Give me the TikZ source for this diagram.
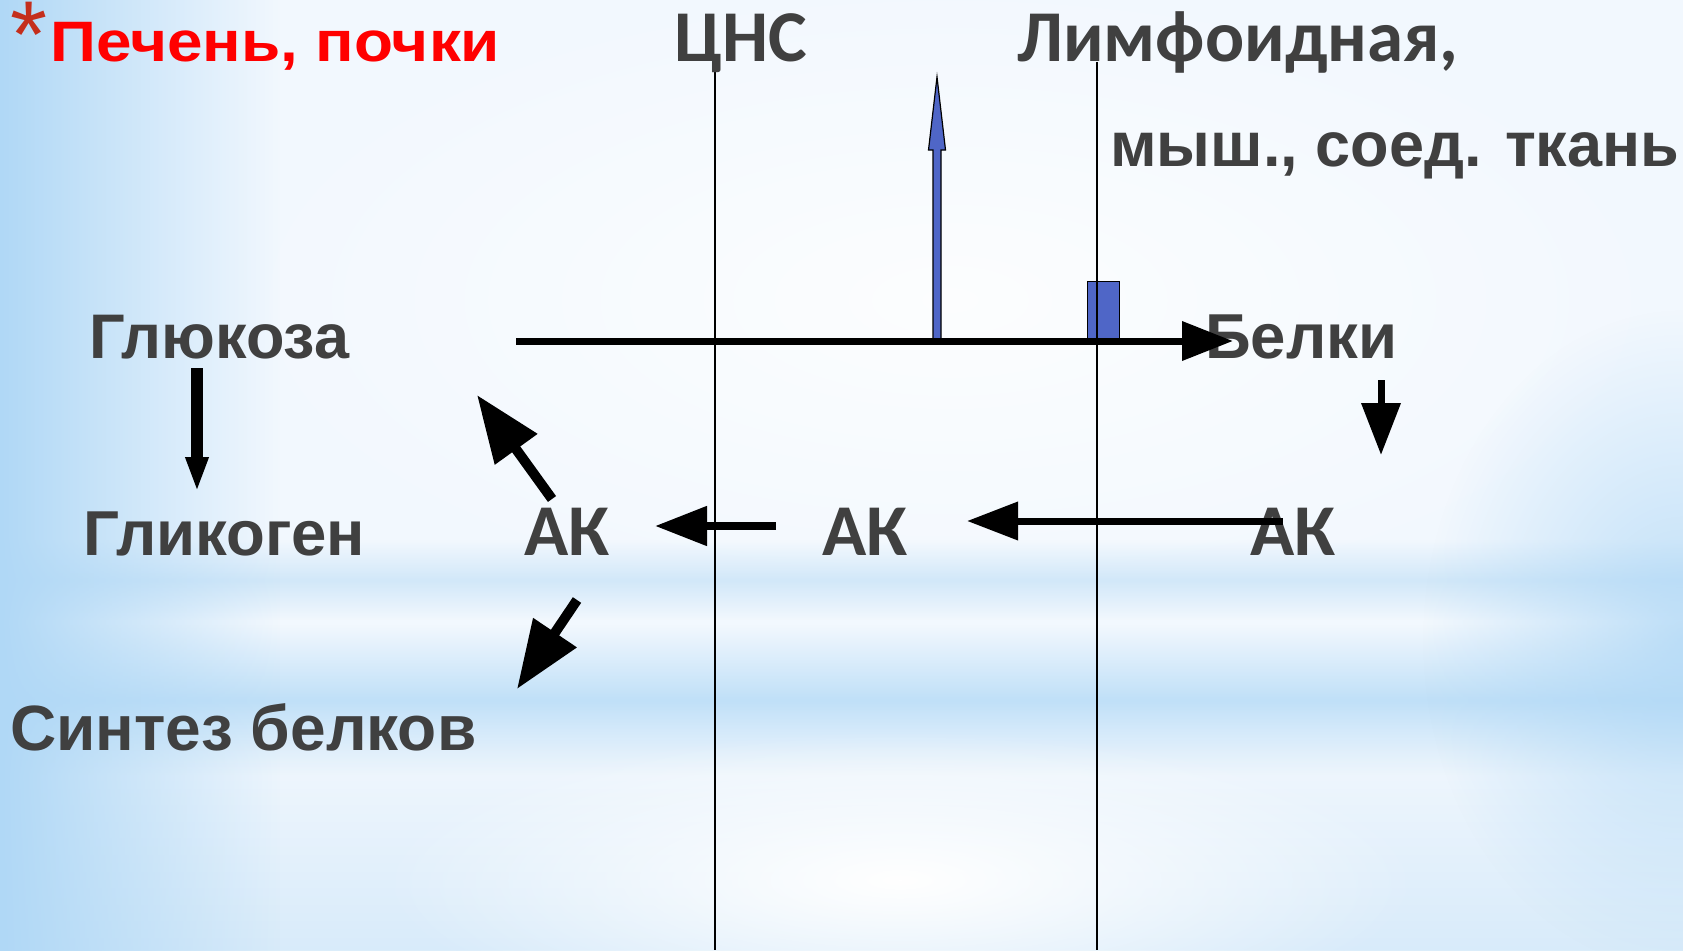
\documentclass[tikz,border=0pt]{standalone}
\usepackage{fontspec}
\setmainfont{Liberation Sans}
\newfontfamily\calfont{Carlito}
\usetikzlibrary{arrows.meta,fadings}
\definecolor{txt}{RGB}{64,64,64}
\definecolor{bgbase}{RGB}{242,248,254}
\definecolor{bandA}{RGB}{210,232,249}
\definecolor{bandB}{RGB}{192,224,248}
\definecolor{edgeblue}{RGB}{176,216,246}
\definecolor{arrblue}{RGB}{79,102,199}
\definecolor{star}{RGB}{196,46,28}
\tikzfading[name=vband, top color=transparent!100, bottom color=transparent!100, middle color=transparent!0]
\tikzfading[name=hband, left color=transparent!100, right color=transparent!100, middle color=transparent!0]
\tikzfading[name=glow, inner color=transparent!0, outer color=transparent!100]
\tikzset{
  lbl/.style={anchor=base west, inner sep=0pt, text=txt, font=\bfseries\fontsize{63}{70}\selectfont},
  lblc/.style={anchor=base west, inner sep=0pt, text=txt, font=\calfont\bfseries\fontsize{73}{80}\selectfont},
  divider/.style={line width=1.5pt, black},
  blk/.style={line width=#1, black},
  bluebox/.style={fill=arrblue, draw=black, line width=1.2pt},
}
\begin{document}
\begin{tikzpicture}[x=1pt,y=-1pt]
\useasboundingbox (0,0) rectangle (1683,950);
% background
\fill[bgbase] (0,0) rectangle (1683,950);
\fill[white, opacity=0.8, path fading=glow] (950,300) ellipse [x radius=750pt, y radius=330pt];
\fill[bandA, path fading=vband] (0,540) rectangle (1683,620);
\fill[bandB, path fading=vband] (0,625) rectangle (1683,775);
\fill[bandA, opacity=0.8, path fading=vband] (0,740) rectangle (1683,1160);
\fill[white, path fading=glow] (900,880) ellipse [x radius=520pt, y radius=150pt];
\fill[edgeblue, path fading=hband] (-280,-50) rectangle (280,1000);
\fill[edgeblue, opacity=0.8, path fading=glow] (1683,640) ellipse [x radius=260pt, y radius=330pt];

% blue shapes
\fill[bluebox] (933,341) -- (933,150) -- (928.5,150) -- (937,77) -- (945.5,150) -- (941,150) -- (941,341) -- cycle;
\node[bluebox, minimum width=32pt, minimum height=60pt, inner sep=0pt, anchor=north west] (box) at (1087,281) {};

% dividers
\coordinate (v1t) at (715,62); \coordinate (v1b) at (715,950);
\coordinate (v2t) at (1097,62); \coordinate (v2b) at (1097,950);
\draw[divider] (v1t) -- (v1b);
\draw[divider] (v2t) -- (v2b);

% texts
\node[anchor=base west, inner sep=0pt, text=star, font=\fontsize{95}{95}\selectfont] (ast) at (10,67) {*};
\node[anchor=base west, inner sep=0pt, text=red, font=\bfseries\fontsize{57}{64}\selectfont] (liver) at (50,62) {\scalebox{1.12}[1]{Печень, почки}};
\node[lblc] (cns) at (674,62) {ЦНС};
\node[lblc] (lymph) at (1017,62) {Лимфоидная,};
\node[lbl] (musc) at (1110,166) {мыш., соед. ткань};
\node[lbl] (gluc) at (89,358) {Глюкоза};
\node[lbl, font=\bfseries\fontsize{63.5}{70}\selectfont] (belki) at (1205,358) {Белки};
\node[lbl, font=\bfseries\fontsize{63.5}{70}\selectfont] (glyc) at (83,555) {Гликоген};
\node[lblc] (ak1) at (524,555) {АК};
\node[lblc] (ak2) at (822,555) {АК};
\node[lblc] (ak3) at (1250,555) {АК};
\node[lbl, font=\bfseries\fontsize{64}{70}\selectfont] (synt) at (10,750) {Синтез белков};

% arrow anchors
\coordinate (mainS) at (516,341); \coordinate (mainE) at (1233,341);
\coordinate (gA) at (197,368); \coordinate (gB) at (197,492);
\coordinate (bA) at (1381,380); \coordinate (bB) at (1381,455);
\coordinate (k3A) at (1283,521); \coordinate (k3B) at (967,521);
\coordinate (k2A) at (776,526); \coordinate (k2B) at (655,526);
\coordinate (k1uA) at (552,499); \coordinate (k1uB) at (477,395);
\coordinate (k1dA) at (577,600); \coordinate (k1dB) at (517,689);

\draw[blk=7pt, -{Triangle[length=51pt,width=38pt]}] (mainS) -- (mainE);
\draw[blk=12pt, -{Triangle[length=35pt,width=21pt]}] (gA) -- (gB);
\draw[blk=7pt, -{Triangle[length=52pt,width=38pt]}] (bA) -- (bB);
\draw[blk=7pt, -{Triangle[length=51pt,width=37pt]}] (k3A) -- (k3B);
\draw[blk=8pt, -{Triangle[length=52pt,width=38pt]}] (k2A) -- (k2B);
\draw[blk=10pt, -{Triangle[length=67pt,width=50pt]}] (k1uA) -- (k1uB);
\draw[blk=10pt, -{Triangle[length=68pt,width=50pt]}] (k1dA) -- (k1dB);
\end{tikzpicture}
\end{document}
